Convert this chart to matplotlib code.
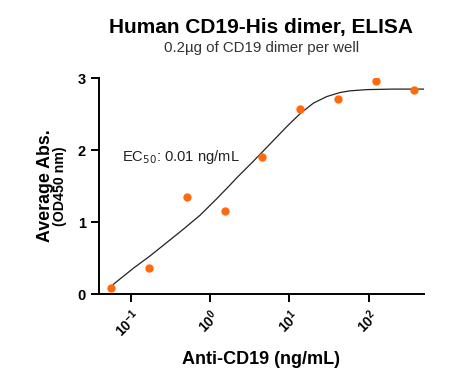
import numpy as np
import matplotlib
matplotlib.use("Agg")
import matplotlib.pyplot as plt

plt.rcParams['font.family'] = ['Liberation Sans', 'DejaVu Sans']
plt.rcParams['mathtext.fontset'] = 'custom'
plt.rcParams['mathtext.bf'] = 'Liberation Sans:bold'

# measured points (ng/mL, OD450)
conc = [0.0564, 0.169, 0.508, 1.52, 4.57, 13.7, 41.2, 123.5, 370]
absorb = [0.086, 0.364, 1.35, 1.156, 1.905, 2.57, 2.71, 2.965, 2.84]

# fitted curve (log10 of conc, OD)
fit_logx = [-1.22, -0.967, -0.757, -0.546, -0.337, -0.126, 0.085, 0.252, 0.337, 0.546,
            0.757, 0.967, 1.135, 1.303, 1.472, 1.639, 1.765, 1.98, 2.3, 2.70]
fit_y = [0.14, 0.364, 0.535, 0.721, 0.906, 1.10, 1.33, 1.52, 1.62, 1.85,
         2.09, 2.33, 2.51, 2.656, 2.747, 2.803, 2.826, 2.843, 2.85, 2.85]

xticks = [0.1, 1, 10, 100]
xticklabels = ['$\\mathbf{10^{-1}}$', '$\\mathbf{10^{0}}$', '$\\mathbf{10^{1}}$', '$\\mathbf{10^{2}}$']

fig = plt.figure(figsize=(4.5, 3.76), dpi=100)
ax = fig.add_axes([0.22, 0.2168, 0.723, 0.575])

ax.plot(10 ** np.array(fit_logx), fit_y, color='#222222', lw=0.9, zorder=2)
ax.plot(conc, absorb, 'o', color='#ff6a0d', ms=6, mec='none', zorder=3)

ax.set_xscale('log')
ax.set_xlim(10 ** -1.4, 10 ** 2.7)
ax.set_ylim(0, 3)
ax.set_xticks(xticks)
ax.set_xticklabels(xticklabels, rotation=45, ha='right', va='top', fontsize=10,
                   rotation_mode='anchor')
ax.xaxis.set_minor_locator(matplotlib.ticker.NullLocator())
ax.set_yticks([0, 1, 2, 3])
ax.set_yticklabels(['0', '1', '2', '3'], fontsize=10.5, fontweight='bold')

for s in ['top', 'right']:
    ax.spines[s].set_visible(False)
for s in ['left', 'bottom']:
    ax.spines[s].set_linewidth(1.4)
ax.tick_params(axis='both', which='major', direction='out', length=6, width=1.4)
ax.tick_params(axis='x', pad=3)

ax.text(0.077, 1.905, 'EC$_{50}$: 0.01 ng/mL', fontsize=10.6, va='center', ha='left',
        color='#222222')

fig.text(0.581, 0.928, 'Human CD19-His dimer, ELISA', fontsize=15, fontweight='bold',
         ha='center', va='center')
fig.text(0.581, 0.872, '0.2\u00b5g of CD19 dimer per well', fontsize=10.8, ha='center',
         va='center', color='#333333')
fig.text(0.581, 0.0426, 'Anti-CD19 (ng/mL)', fontsize=13, fontweight='bold',
         ha='center', va='center')
fig.text(0.1, 0.505, 'Average Abs.', fontsize=12.8, fontweight='bold', rotation=90,
         ha='center', va='center')
fig.text(0.134, 0.505, '(OD450 nm)', fontsize=10.2, fontweight='bold', rotation=90,
         ha='center', va='center')

fig.savefig('out.png', dpi=100)
